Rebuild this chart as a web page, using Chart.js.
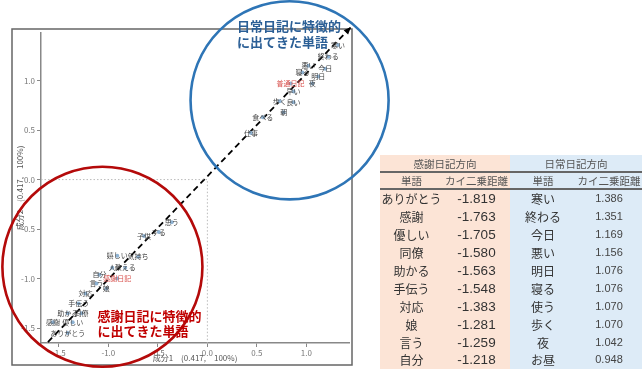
<!DOCTYPE html>
<html lang="ja">
<head>
<meta charset="utf-8">
<script src="https://cdn.jsdelivr.net/npm/chart.js@4.4.1/dist/chart.umd.min.js"></script>
<style>
    body { margin: 0; background: #fff; font-family: 'Noto Sans CJK JP', sans-serif; }
    #wrap { position: relative; width: 643px; height: 369px; overflow: hidden; }
    #chart { position: absolute; left: 0; top: 0; }
    #tabla { position: absolute; left: 380px; top: 155px; width: 262px; border-collapse: collapse; table-layout: fixed; color: #333; }
    #tabla td, #tabla th { padding: 0; text-align: center; font-weight: normal; white-space: nowrap; }
    #tabla .izq { background: #fce4d6; }
    #tabla .der { background: #ddebf7; }
    #tabla tr.h1 th { height: 16px; font-size: 10.5px; color: #555; border-bottom: 2px solid #666; }
    #tabla tr.h2 th { height: 13px; font-size: 10.5px; color: #555; border-bottom: 2px solid #666; }
    #tabla tbody td { height: 17.9px; line-height: 17px; }
    #tabla tbody tr:last-child td { border-bottom: 2px solid #666; }
    #tabla td.pal { font-size: 12px; }
    #tabla td.num1 { font-size: 13.5px; font-family: 'Liberation Sans', sans-serif; }
    #tabla td.num2 { font-size: 11px; font-family: 'Liberation Sans', sans-serif; color: #444; }
</style>
</head>
<body>
<div id="wrap">
    <canvas id="chart" width="643" height="369"></canvas>
    <table id="tabla">
        <colgroup><col style="width:63px"><col style="width:67px"><col style="width:66px"><col style="width:66px"></colgroup>
        <thead>
            <tr class="h1"><th class="izq" colspan="2" id="tituloIzq"></th><th class="der" colspan="2" id="tituloDer"></th></tr>
            <tr class="h2"><th class="izq">単語</th><th class="izq">カイ二乗距離</th><th class="der">単語</th><th class="der">カイ二乗距離</th></tr>
        </thead>
        <tbody></tbody>
    </table>
</div>
<script>
// --- Datos del gráfico ---
const palabras = [
    '寒い', '終わる', '悪い', '今日', '寝る', '明日', '普通日記', '夜', '早い', '歩く', '良い', '朝', '食べる', '仕事',
    '思う', 'する', '子供', '気持ち', '嬉しい', '教える', '人', '自分', '感謝日記', '言う', '娘', '対応',
    '手伝う', '同僚', '助かる', '優しい', '感謝', 'ありがとう'
];
const componente1 = [
    1.32, 1.22, 1.02, 1.19, 0.96, 1.12, 0.84, 1.06, 0.87, 0.73, 0.87, 0.77, 0.56, 0.44,
    -0.36, -0.49, -0.64, -0.70, -0.91, -0.83, -0.96, -1.09, -0.91, -1.12, -1.02, -1.23,
    -1.30, -1.27, -1.41, -1.36, -1.56, -1.41
];
const componente2 = [
    1.36, 1.24, 1.15, 1.12, 1.08, 1.04, 0.97, 0.97, 0.89, 0.79, 0.78, 0.68, 0.63, 0.47,
    -0.43, -0.53, -0.57, -0.78, -0.77, -0.89, -0.89, -0.96, -1.00, -1.05, -1.10, -1.15,
    -1.25, -1.35, -1.35, -1.44, -1.44, -1.55
];
const etiquetasRojas = ['普通日記', '感謝日記'];

const ticksX = [-1.5, -1.0, -0.5, 0.0, 0.5, 1.0];
const ticksY = [-1.5, -1.0, -0.5, 0.0, 0.5, 1.0];

// flecha diagonal y líneas de referencia (coordenadas de datos)
const lineaDiagonal = [{ x: -1.61, y: -1.64 }, { x: 1.45, y: 1.54 }];
const lineaReferencia = [{ x: -1.68, y: 0 }, { x: 0, y: 0 }, { x: 0, y: -1.65 }];

// círculos de anotación: centro x, centro y, radio
const circuloAzul = [0.83, 0.80, 1.0];
const circuloRojo = [-1.06, -0.88, 1.01];
const textoAzul = ['日常日記に特徴的', 'に出てきた単語'];
const textoRojo = ['感謝日記に特徴的', 'に出てきた単語'];

// --- Datos de la tabla ---
const tituloGratitud = '感謝日記方向';
const tituloNormal = '日常日記方向';
const palabrasGratitud = ['ありがとう', '感謝', '優しい', '同僚', '助かる', '手伝う', '対応', '娘', '言う', '自分'];
const distGratitud = [-1.819, -1.763, -1.705, -1.580, -1.563, -1.548, -1.383, -1.281, -1.259, -1.218];
const palabrasNormal = ['寒い', '終わる', '今日', '悪い', '明日', '寝る', '使う', '歩く', '夜', 'お昼'];
const distNormal = [1.386, 1.351, 1.169, 1.156, 1.076, 1.076, 1.070, 1.070, 1.042, 0.948];

const FUENTE = "'Noto Sans CJK JP', sans-serif";

// --- Tabla ---
function llenarTabla() {
    document.getElementById('tituloIzq').textContent = tituloGratitud;
    document.getElementById('tituloDer').textContent = tituloNormal;
    const tbody = document.querySelector('#tabla tbody');
    palabrasGratitud.forEach((p, i) => {
        const tr = document.createElement('tr');
        tr.innerHTML = `
            <td class="izq pal">${p}</td>
            <td class="izq num1">${distGratitud[i].toFixed(3)}</td>
            <td class="der pal">${palabrasNormal[i]}</td>
            <td class="der num2">${distNormal[i].toFixed(3)}</td>
        `;
        tbody.appendChild(tr);
    });
}

// --- Plugin de anotaciones ---
const anotaciones = {
    id: 'anotaciones',
    beforeDraw(chart) {
        const ctx = chart.ctx;
        ctx.save();
        ctx.strokeStyle = '#666';
        ctx.lineWidth = 1.5;
        ctx.strokeRect(12, 29, 340, 336);
        ctx.restore();
    },
    afterDatasetsDraw(chart) {
        const ctx = chart.ctx;
        const sx = chart.scales.x, sy = chart.scales.y;

        // etiquetas de palabras
        const meta = chart.getDatasetMeta(0);
        ctx.save();
        ctx.font = '7px ' + FUENTE;
        ctx.textAlign = 'center';
        ctx.textBaseline = 'middle';
        meta.data.forEach((pt, i) => {
            ctx.fillStyle = etiquetasRojas.includes(palabras[i]) ? '#d9534f' : '#444';
            ctx.fillText(palabras[i], pt.x, pt.y);
        });
        ctx.restore();

        // punta de flecha
        const lm = chart.getDatasetMeta(2).data;
        const a = lm[lm.length - 2], b = lm[lm.length - 1];
        const ang = Math.atan2(b.y - a.y, b.x - a.x);
        ctx.save();
        ctx.fillStyle = '#000';
        ctx.beginPath();
        ctx.moveTo(b.x, b.y);
        ctx.lineTo(b.x - 8 * Math.cos(ang - 0.4), b.y - 8 * Math.sin(ang - 0.4));
        ctx.lineTo(b.x - 8 * Math.cos(ang + 0.4), b.y - 8 * Math.sin(ang + 0.4));
        ctx.closePath();
        ctx.fill();
        ctx.restore();

        // círculos
        const circulo = (c, color) => {
            const cx = sx.getPixelForValue(c[0]);
            const cy = sy.getPixelForValue(c[1]);
            const r = sx.getPixelForValue(c[0] + c[2]) - cx;
            ctx.save();
            ctx.strokeStyle = color;
            ctx.lineWidth = 2.6;
            ctx.beginPath();
            ctx.arc(cx, cy, r, 0, Math.PI * 2);
            ctx.stroke();
            ctx.restore();
        };
        circulo(circuloAzul, '#2e75b6');
        circulo(circuloRojo, '#b40a0a');

        // textos de los círculos
        const texto = (lineas, x, y0, y1, color) => {
            ctx.save();
            ctx.font = 'bold 13px ' + FUENTE;
            ctx.fillStyle = color;
            ctx.textAlign = 'left';
            ctx.textBaseline = 'middle';
            ctx.fillText(lineas[0], sx.getPixelForValue(x), sy.getPixelForValue(y0));
            ctx.fillText(lineas[1], sx.getPixelForValue(x), sy.getPixelForValue(y1));
            ctx.restore();
        };
        texto(textoAzul, 0.30, 1.55, 1.39, '#2b5f96');
        texto(textoRojo, -1.11, -1.38, -1.53, '#c00000');
    }
};

// --- Gráfico ---
function initChart() {
    const puntos = componente1.map((x, i) => ({ x: x, y: componente2[i] }));

    new Chart(document.getElementById('chart'), {
        type: 'scatter',
        data: {
            datasets: [{
                data: puntos,
                backgroundColor: '#8fb3d3',
                borderWidth: 0,
                pointRadius: 2
            }, {
                type: 'line',
                data: lineaReferencia,
                borderColor: '#bbb',
                borderWidth: 1,
                borderDash: [1.5, 2],
                pointRadius: 0,
                fill: false
            }, {
                type: 'line',
                data: lineaDiagonal,
                borderColor: '#000',
                borderWidth: 1.8,
                borderDash: [6, 4],
                pointRadius: 0,
                fill: false,
                clip: false
            }]
        },
        options: {
            responsive: false,
            animation: false,
            layout: { padding: { left: 0, top: 33, right: 294, bottom: 0 } },
            plugins: { legend: { display: false }, tooltip: { enabled: false } },
            scales: {
                x: {
                    type: 'linear',
                    min: -1.68,
                    max: 1.43,
                    afterFit: s => { s.height = 26; },
                    afterBuildTicks: s => { s.ticks = ticksX.map(v => ({ value: v })); },
                    grid: { drawOnChartArea: false, tickLength: 4, color: '#888' },
                    border: { color: '#888', width: 1.5 },
                    ticks: { color: '#777', font: { size: 8, family: FUENTE }, padding: 1, callback: v => v.toFixed(1) },
                    title: { display: true, text: '成分1　(0.417,　100%)', color: '#555', font: { size: 8, family: FUENTE }, padding: { bottom: 6 } }
                },
                y: {
                    type: 'linear',
                    min: -1.65,
                    max: 1.48,
                    afterFit: s => { s.width = 41; },
                    afterBuildTicks: s => { s.ticks = ticksY.map(v => ({ value: v })); },
                    grid: { drawOnChartArea: false, tickLength: 4, color: '#888' },
                    border: { color: '#888', width: 1.5 },
                    ticks: { color: '#777', font: { size: 8, family: FUENTE }, padding: 2, callback: v => v.toFixed(1) },
                    title: { display: true, text: '成分2　(0.417,　100%)', color: '#555', font: { size: 8, family: FUENTE }, padding: { top: 15 } }
                }
            }
        },
        plugins: [anotaciones]
    });
}

llenarTabla();
initChart();
</script>
</body>
</html>
